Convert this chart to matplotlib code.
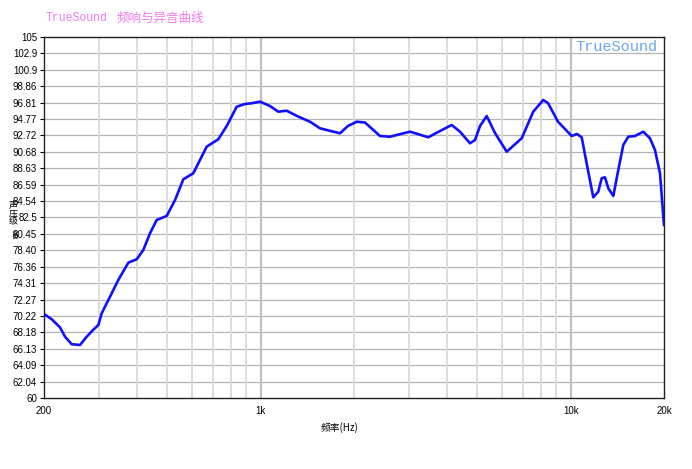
import numpy as np
import matplotlib.pyplot as plt
from matplotlib.ticker import FixedLocator, NullFormatter

# frequency response
freq = [200, 211.8, 225.2, 233.8, 245.7, 261.3, 274.7, 285.7, 299.4, 307.0,
        326.6, 347.3, 374.1, 398.1, 418.2, 439.5, 461.9, 497.5, 529.4, 562.9,
        606.1, 669.6, 729.9, 777.1, 836.8, 889.7, 935.5, 995.1, 1071.6, 1139.5,
        1213.1, 1322.6, 1442.6, 1553.6, 1715.2, 1802.4, 1912.7, 2040.5, 2170.4, 2426.2,
        2613.2, 3031.0, 3473.0, 3788, 4132, 4396, 4734, 4914, 5100, 5360,
        5700, 6218, 6950, 7574, 8158, 8450, 9102, 10078, 10482, 10854,
        11288, 11828, 12277, 12592, 12906, 13226, 13726, 14244, 14784, 15342,
        16128, 17152, 18024, 18708, 19416, 20000]
spl = [70.47, 69.81, 68.81, 67.64, 66.70, 66.61, 67.64, 68.35, 69.10, 70.56,
       72.63, 74.71, 76.87, 77.29, 78.45, 80.53, 82.19, 82.69, 84.68, 87.26,
       88.01, 91.33, 92.25, 93.91, 96.31, 96.65, 96.74, 96.94, 96.40, 95.69,
       95.81, 95.07, 94.44, 93.62, 93.20, 93.00, 93.91, 94.44, 94.34, 92.66,
       92.57, 93.20, 92.50, 93.28, 94.03, 93.20, 91.75, 92.16, 93.91, 95.15,
       93.03, 90.70, 92.37, 95.69, 97.15, 96.77, 94.44, 92.66, 92.91, 92.50,
       89.04, 85.02, 85.72, 87.39, 87.51, 86.14, 85.18, 88.42, 91.54, 92.57,
       92.66, 93.20, 92.37, 90.91, 88.01, 81.57]

ytick_labels = ['60', '62.04', '64.09', '66.13', '68.18', '70.22', '72.27', '74.31',
                '76.36', '78.40', '80.45', '82.5', '84.54', '86.59', '88.63', '90.68',
                '92.72', '94.77', '96.81', '98.86', '100.9', '102.9', '105']
xticks = [200, 1000, 10000, 20000]
xtick_labels = ['200', '1k', '10k', '20k']
minor_x = [300, 400, 500, 600, 700, 800, 900,
           2000, 3000, 4000, 5000, 6000, 7000, 8000, 9000]

plt.rcParams['font.family'] = ['Liberation Sans', 'Noto Sans CJK SC', 'DejaVu Sans']

fig = plt.figure(figsize=(6.92, 4.69), dpi=100)
ax = fig.add_axes([0.0636, 0.1514, 0.8959, 0.7697])

ax.set_xscale('log')
ax.set_xlim(200, 20000)
ax.set_ylim(60, 105)

yt = np.linspace(60, 105, len(ytick_labels))
ax.set_yticks(yt)
ax.set_yticklabels(ytick_labels)
ax.set_xticks(xticks)
ax.set_xticklabels(xtick_labels)
ax.xaxis.set_minor_locator(FixedLocator(minor_x))
ax.xaxis.set_minor_formatter(NullFormatter())

# grid
for y in yt[1:-1]:
    ax.axhline(y, color='#b4b4b4', lw=0.9, zorder=1)
for x in minor_x:
    ax.axvline(x, color='#dcdcdc', lw=1.4, zorder=1)
for x in [1000, 10000]:
    ax.axvline(x, color='#c0c0c0', lw=1.6, zorder=1)

ax.plot(freq, spl, color='#1010ff', lw=1.9, zorder=3)

ax.tick_params(axis='both', which='major', labelsize=7, length=3, width=0.8, pad=2)
ax.tick_params(axis='x', which='major', length=0, pad=6)
ax.tick_params(axis='x', which='minor', length=0)
for s in ax.spines.values():
    s.set_color('#202020')
    s.set_linewidth(1.0)

# title and watermark
fig.text(46/692, 1 - 18/469, 'TrueSound', family='Liberation Mono', fontsize=8.3,
         color='#f07cf0', va='center', ha='left')
fig.text(117/692, 1 - 18/469, '频响与异音曲线', family=['Noto Sans CJK SC'], fontsize=9,
         color='#f07cf0', va='center', ha='left')
ax.text(0.99, 0.993, 'TrueSound', transform=ax.transAxes, family='Liberation Mono',
        fontsize=11, color='#6aa6f0', ha='right', va='top', zorder=4)

# axis labels
fig.text(340/692, 1 - 428/469, '频率(Hz)', family=['Noto Sans CJK SC', 'DejaVu Sans'],
         fontsize=7, ha='center', va='center')
fig.text(13/692, 1 - 214/469, '声\n压\n级', family=['Noto Sans CJK SC'], fontsize=6.5,
         ha='center', va='center', linespacing=0.9)
fig.text(13/692, 1 - 235/469, 'dB', fontsize=5.5, rotation=270, ha='center', va='center')

fig.savefig('out.png', dpi=100, facecolor='white')
